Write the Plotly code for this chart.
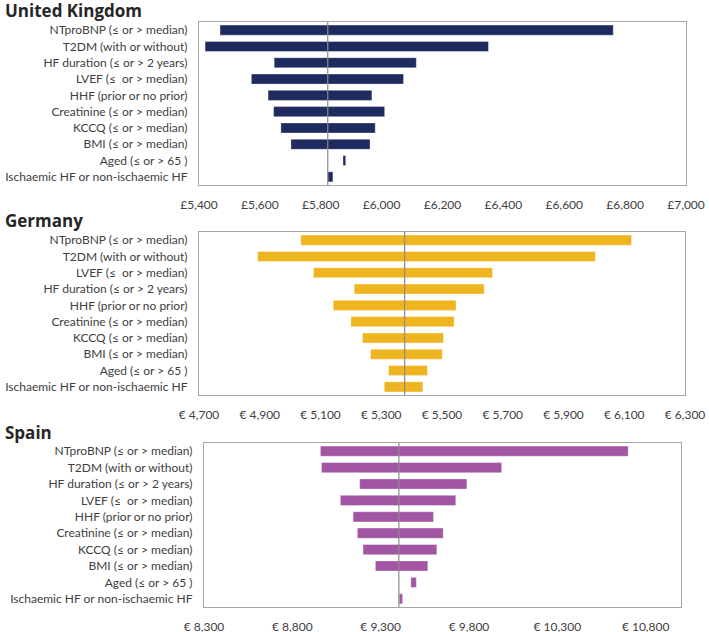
import plotly.graph_objects as go

W, H = 709, 632

uk_labels = ["NTproBNP (≤ or > median)", "T2DM (with or without)", "HF duration (≤ or > 2 years)",
             "LVEF (≤  or > median)", "HHF (prior or no prior)", "Creatinine (≤ or > median)",
             "KCCQ (≤ or > median)", "BMI (≤ or > median)", "Aged (≤ or > 65 )",
             "Ischaemic HF or non-ischaemic HF"]
uk_low = [5469, 5420, 5647, 5572, 5627, 5645, 5669, 5702, 5873, 5823]
uk_high = [6761, 6351, 6114, 6072, 5968, 6010, 5979, 5962, 5882, 5840]
uk_base = 5823

de_labels = ["NTproBNP (≤ or > median)", "T2DM (with or without)", "LVEF (≤  or > median)",
             "HF duration (≤ or > 2 years)", "HHF (prior or no prior)", "Creatinine (≤ or > median)",
             "KCCQ (≤ or > median)", "BMI (≤ or > median)", "Aged (≤ or > 65 )",
             "Ischaemic HF or non-ischaemic HF"]
de_low = [5035, 4893, 5077, 5211, 5142, 5200, 5238, 5265, 5324, 5310]
de_high = [6124, 6005, 5666, 5639, 5546, 5540, 5505, 5501, 5452, 5437]
de_base = 5377

es_labels = ["NTproBNP (≤ or > median)", "T2DM (with or without)", "HF duration (≤ or > 2 years)",
             "LVEF (≤  or > median)", "HHF (prior or no prior)", "Creatinine (≤ or > median)",
             "KCCQ (≤ or > median)", "BMI (≤ or > median)", "Aged (≤ or > 65 )",
             "Ischaemic HF or non-ischaemic HF"]
es_low = [8959, 8965, 9181, 9072, 9144, 9168, 9200, 9270, 9471, 9405]
es_high = [10701, 9985, 9788, 9725, 9599, 9654, 9618, 9567, 9502, 9424]
es_base = 9403

panels = [
    dict(name="United Kingdom", labels=uk_labels, low=uk_low, high=uk_high, base=uk_base,
         color="#1F2A5E", xr=[5400, 7000], tick0=5400, dtick=200, prefix="£",
         xd=[199, 686], yd=[22, 185]),
    dict(name="Germany", labels=de_labels, low=de_low, high=de_high, base=de_base,
         color="#EFB520", xr=[4700, 6300], tick0=4700, dtick=200, prefix="€ ",
         xd=[199, 685], yd=[232, 395]),
    dict(name="Spain", labels=es_labels, low=es_low, high=es_high, base=es_base,
         color="#A155A2", xr=[8300, 11000], tick0=8300, dtick=500, prefix="€ ",
         xd=[204, 681], yd=[443, 607]),
]

fig = go.Figure()
font_fam = "Lato, 'Open Sans', sans-serif"
layout = dict(width=W, height=H, margin=dict(l=0, r=0, t=0, b=0, autoexpand=False),
              paper_bgcolor="white", plot_bgcolor="white", showlegend=False,
              font=dict(family=font_fam, size=12, color="#404040"),
              bargap=0.38, annotations=[], shapes=[])

title_y = [11, 220, 432]
for i, p in enumerate(panels):
    n = "" if i == 0 else str(i + 1)
    fig.add_trace(go.Bar(
        y=p["labels"], x=[h - l for h, l in zip(p["high"], p["low"])], base=p["low"],
        orientation="h", marker=dict(color=p["color"], line=dict(color="rgba(255,255,255,0.6)", width=0.6)),
        xaxis="x" + n, yaxis="y" + n, hoverinfo="skip"))
    layout["xaxis" + n] = dict(domain=[p["xd"][0] / W, p["xd"][1] / W], range=p["xr"],
                               tick0=p["tick0"], dtick=p["dtick"], tickprefix=p["prefix"],
                               tickformat=",", showgrid=False, zeroline=False,
                               showline=True, mirror=True, linecolor="#A6A6A6", linewidth=1.2,
                               ticks="", ticklabelstandoff=8, anchor="y" + n, automargin=False,
                               tickfont=dict(size=12, color="#404040"), fixedrange=True)
    layout["yaxis" + n] = dict(domain=[1 - p["yd"][1] / H, 1 - p["yd"][0] / H],
                               autorange="reversed", type="category", automargin=False,
                               showgrid=False, zeroline=False, showline=True, mirror=True,
                               linecolor="#A6A6A6", linewidth=1.2, ticks="",
                               ticklabelstandoff=8, anchor="x" + n,
                               tickfont=dict(size=12, color="#404040"), fixedrange=True)
    layout["shapes"].append(dict(type="line", xref="x" + n, yref="y" + n + " domain",
                                 x0=p["base"], x1=p["base"], y0=0, y1=1,
                                 line=dict(color="#8C8C8C", width=1.2), layer="above"))
    layout["annotations"].append(dict(text="<b>" + p["name"] + "</b>", xref="paper", yref="paper",
                                      x=3 / W, y=1 - title_y[i] / H, xanchor="left", yanchor="middle",
                                      showarrow=False,
                                      font=dict(size=17, color="#262626", family="'Open Sans', sans-serif")))

fig.update_layout(**layout)
fig.write_html("out.html", config={"displayModeBar": False},
               post_script="document.body.style.margin='0';")
